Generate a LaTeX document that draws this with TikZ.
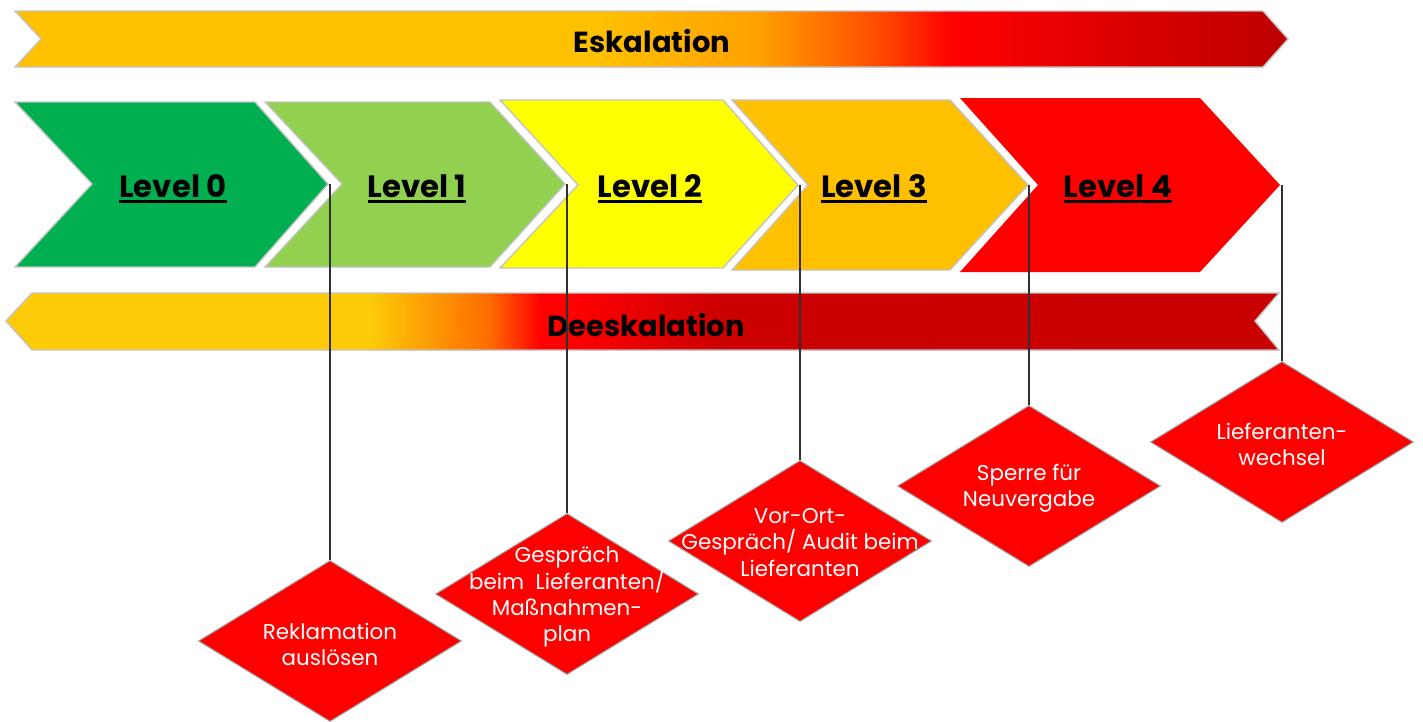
\documentclass[tikz,border=0pt]{standalone}
\usepackage{fontspec}
\setmainfont{Poppins}
\usetikzlibrary{shapes.geometric}
\definecolor{lv0}{HTML}{00B050}
\definecolor{lv1}{HTML}{92D050}
\definecolor{lv2}{HTML}{FFFF00}
\definecolor{lv3}{HTML}{FFC000}
\definecolor{lv4}{HTML}{FF0000}
\definecolor{eA}{HTML}{FFC000}
\definecolor{eB}{HTML}{FFA000}
\definecolor{eC}{HTML}{FF4A00}
\definecolor{eD}{HTML}{FF0000}
\definecolor{eE}{HTML}{BB0000}
\definecolor{dA}{HTML}{FDCB08}
\definecolor{dB}{HTML}{FF6A00}
\definecolor{dC}{HTML}{FF0000}
\definecolor{dD}{HTML}{CC0000}
\definecolor{dE}{HTML}{C80000}
\definecolor{edge}{HTML}{C4C4C4}
\definecolor{conn}{HTML}{303030}
\newcommand\lvltext[1]{\setbox0\hbox{#1}\rlap{\rule[-3.4pt]{\wd0}{1.9pt}}\box0}
\begin{document}
\begin{tikzpicture}[x=0.02cm,y=-0.02cm,
  chev/.style={draw=edge,line width=0.8pt,line join=miter},
  lvl/.style={font=\fontsize{17.5}{20}\selectfont\bfseries,text=black,inner sep=0pt,anchor=base},
  bartext/.style={font=\fontsize{16.5}{20}\selectfont\bfseries,text=black,inner sep=0pt},
  dia/.style={diamond,fill=lv4,draw=edge!80!black,line width=0.6pt,minimum width=5.26cm,minimum height=3.22cm,inner sep=0pt},
  dtext/.style={font=\fontsize{12.2}{14.9}\selectfont,text=white,align=center,inner sep=0pt},
  connector/.style={draw=conn,line width=0.75pt}]
\useasboundingbox (0,0) rectangle (1423,721);
\fill[white] (0,0) rectangle (1423,721);

% Eskalation arrow
\begin{scope}
\clip (15,11) -- (1263,11) -- (1288,39) -- (1263,67) -- (15,67) -- (41,39) -- cycle;
\fill[eA] (10,5) rectangle (601,75);
\fill[left color=eA,right color=eB] (600,5) rectangle (761,75);
\fill[left color=eB,right color=eC] (760,5) rectangle (881,75);
\fill[left color=eC,right color=eD] (880,5) rectangle (951,75);
\fill[left color=eD,right color=eE] (950,5) rectangle (1290,75);
\end{scope}
\draw[chev] (15,11) -- (1263,11) -- (1288,39) -- (1263,67) -- (15,67) -- (41,39) -- cycle;
\node[bartext] (esk) at (652,41) {Eskalation};

% Level chevrons
\draw[chev,fill=lv0] (15,102) -- (255,102) -- (328,184) -- (255,267) -- (15,267) -- (92,184) -- cycle;
\draw[chev,fill=lv1] (265,102) -- (490,102) -- (565,184) -- (490,267) -- (265,267) -- (342,184) -- cycle;
\draw[chev,fill=lv2] (500,100) -- (723,100) -- (798,185) -- (723,268) -- (500,268) -- (578,185) -- cycle;
\draw[chev,fill=lv3] (732,100) -- (950,100) -- (1028,185) -- (950,270) -- (732,270) -- (808,185) -- cycle;
\fill[lv4] (960,98) -- (1200,98) -- (1280,185) -- (1200,272) -- (960,272) -- (1038,185) -- cycle;

\node[lvl] (l0) at (173,197) {\lvltext{Level 0}};
\node[lvl] (l1) at (417,197) {\lvltext{Level 1}};
\node[lvl] (l2) at (650,197) {\lvltext{Level 2}};
\node[lvl] (l3) at (874,197) {\lvltext{Level 3}};
\node[lvl] (l4) at (1118,197) {\lvltext{Level 4}};

\coordinate (t0) at (330,184);
\coordinate (t1) at (567,184);
\coordinate (t2) at (800,185);
\coordinate (t3) at (1029,185);
\coordinate (t4) at (1282,185);

% Deeskalation arrow
\begin{scope}
\clip (6,321) -- (32,293) -- (1279,293) -- (1255,321) -- (1279,350) -- (32,350) -- cycle;
\fill[dA] (0,285) rectangle (371,360);
\fill[left color=dA,right color=dB] (370,285) rectangle (491,360);
\fill[left color=dB,right color=dC] (490,285) rectangle (541,360);
\fill[dC] (540,285) rectangle (571,360);
\fill[left color=dC,right color=dD] (570,285) rectangle (721,360);
\fill[left color=dD,right color=dE] (720,285) rectangle (1285,360);
\end{scope}
\draw[chev] (6,321) -- (32,293) -- (1279,293) -- (1255,321) -- (1279,350) -- (32,350) -- cycle;
\node[bartext] (desk) at (646,325) {Deeskalation};

% Diamonds
\node[dia] (d0) at (330,641) {};
\node[dia] (d1) at (567,594) {};
\node[dia] (d2) at (800,541) {};
\node[dia] (d3) at (1029,486) {};
\node[dia] (d4) at (1282,442) {};

\node[dtext] at ([yshift=-0.07cm]d0.center) {Reklamation\\auslösen};
\node[dtext] at ([yshift=-0.06cm]d1.center) {Gespräch\\beim\ \ Lieferanten/\\Maßnahmen-\\plan};
\node[dtext] at ([yshift=-0.03cm]d2.center) {Vor-Ort-\\Gespräch/ Audit beim\\Lieferanten};
\node[dtext] at ([yshift=-0.04cm]d3.center) {Sperre für\\Neuvergabe};
\node[dtext] at ([yshift=-0.05cm]d4.center) {Lieferanten-\\wechsel};

% Connectors
\draw[connector] (t0) -- (d0.north);
\draw[connector] (t1) -- (d1.north);
\draw[connector] (t2) -- (d2.north);
\draw[connector] (t3) -- (d3.north);
\draw[connector] (t4) -- (d4.north);
\end{tikzpicture}
\end{document}
